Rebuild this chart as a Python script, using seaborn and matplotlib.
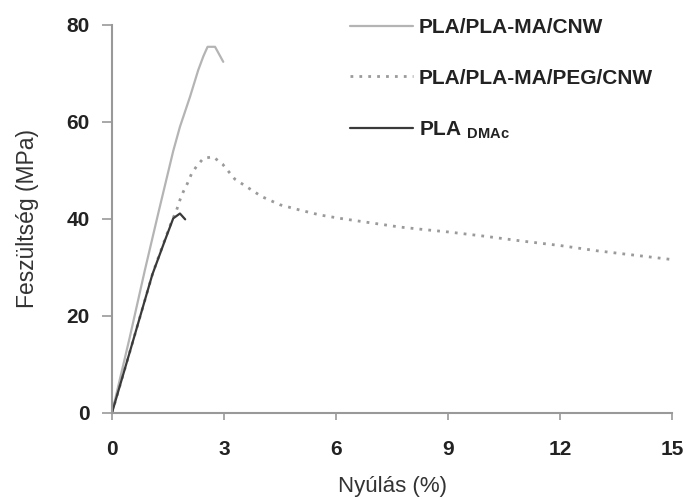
import matplotlib
matplotlib.use("Agg")
import matplotlib.pyplot as plt
import seaborn as sns

# stress-strain curves
cnw_x = [0, 0.48, 0.88, 1.25, 1.64, 1.82, 2.09, 2.31, 2.45, 2.56, 2.76, 2.98]
cnw_y = [0, 15.7, 29.4, 41.5, 54.0, 59.0, 65.2, 70.7, 73.6, 75.5, 75.5, 72.4]

peg_x = [0, 0.57, 1.1, 1.42, 1.6, 1.73, 1.82, 1.91, 2.02, 2.13, 2.27, 2.45,
         2.71, 2.96, 3.29, 4.01, 4.5, 5.04, 5.57, 6.11, 6.91, 7.72, 8.47,
         9.0, 10.0, 11.0, 12.0, 13.0, 14.0, 15.0]
peg_y = [0, 15, 29, 35.8, 39.5, 41.8, 43.9, 45.6, 47.3, 49.3, 50.9, 52.5,
         52.8, 51.3, 48.2, 44.6, 42.9, 41.8, 40.8, 40.1, 39.2, 38.3, 37.7,
         37.3, 36.4, 35.4, 34.5, 33.4, 32.5, 31.6]

dmac_x = [0, 0.57, 1.08, 1.42, 1.64, 1.82, 1.96]
dmac_y = [0, 15, 28.5, 35.6, 40.1, 41.1, 39.9]

labels = ["PLA/PLA-MA/CNW", "PLA/PLA-MA/PEG/CNW", r"PLA $_{\mathregular{DMAc}}$"]
x_ticks = [0, 3, 6, 9, 12, 15]
y_ticks = [0, 20, 40, 60, 80]

sns.set_style("ticks")
plt.rcParams["font.family"] = ["Liberation Sans", "DejaVu Sans"]

fig = plt.figure(figsize=(6.86, 5.0), dpi=100)
ax = fig.add_axes([112 / 686, 0.1746, 560 / 686, 0.7754])

sns.lineplot(x=cnw_x, y=cnw_y, ax=ax, color="#b4b4b4", lw=1.6,
             label=labels[0], sort=False)
sns.lineplot(x=peg_x, y=peg_y, ax=ax, color="#9a9a9a", lw=2.0,
             linestyle=(0, (1, 2.2)), label=labels[1], sort=False)
sns.lineplot(x=dmac_x, y=dmac_y, ax=ax, color="#3a3a3a", lw=1.6,
             label=labels[2], sort=False)

ax.set_xlim(0, 15)
ax.set_ylim(0, 80)
ax.set_xticks(x_ticks)
ax.set_yticks(y_ticks)
ax.tick_params(axis="x", direction="out", length=5, width=1.2,
               color="#999999", labelsize=15, pad=15)
ax.tick_params(axis="y", direction="out", length=7, width=1.2,
               color="#999999", labelsize=15, pad=9)
for lab in ax.get_xticklabels() + ax.get_yticklabels():
    lab.set_fontweight("bold")
    lab.set_color("#222222")

sns.despine(ax=ax)
for side in ["left", "bottom"]:
    ax.spines[side].set_color("#999999")
    ax.spines[side].set_linewidth(1.5)

ax.set_xlabel("Nyúlás (%)", fontsize=16, color="#333333", labelpad=12)
ax.set_ylabel("Feszültség (MPa)", fontsize=16.5, color="#333333", labelpad=20)

leg = ax.legend(loc="upper left", bbox_to_anchor=(0.425, 1.017), frameon=False,
                borderpad=0, borderaxespad=0,
                handlelength=3.0, handletextpad=0.3, labelspacing=1.5,
                fontsize=15)
for t in leg.get_texts():
    t.set_color("#222222")
    t.set_fontweight("bold")

fig.savefig("out.png", dpi=100)
